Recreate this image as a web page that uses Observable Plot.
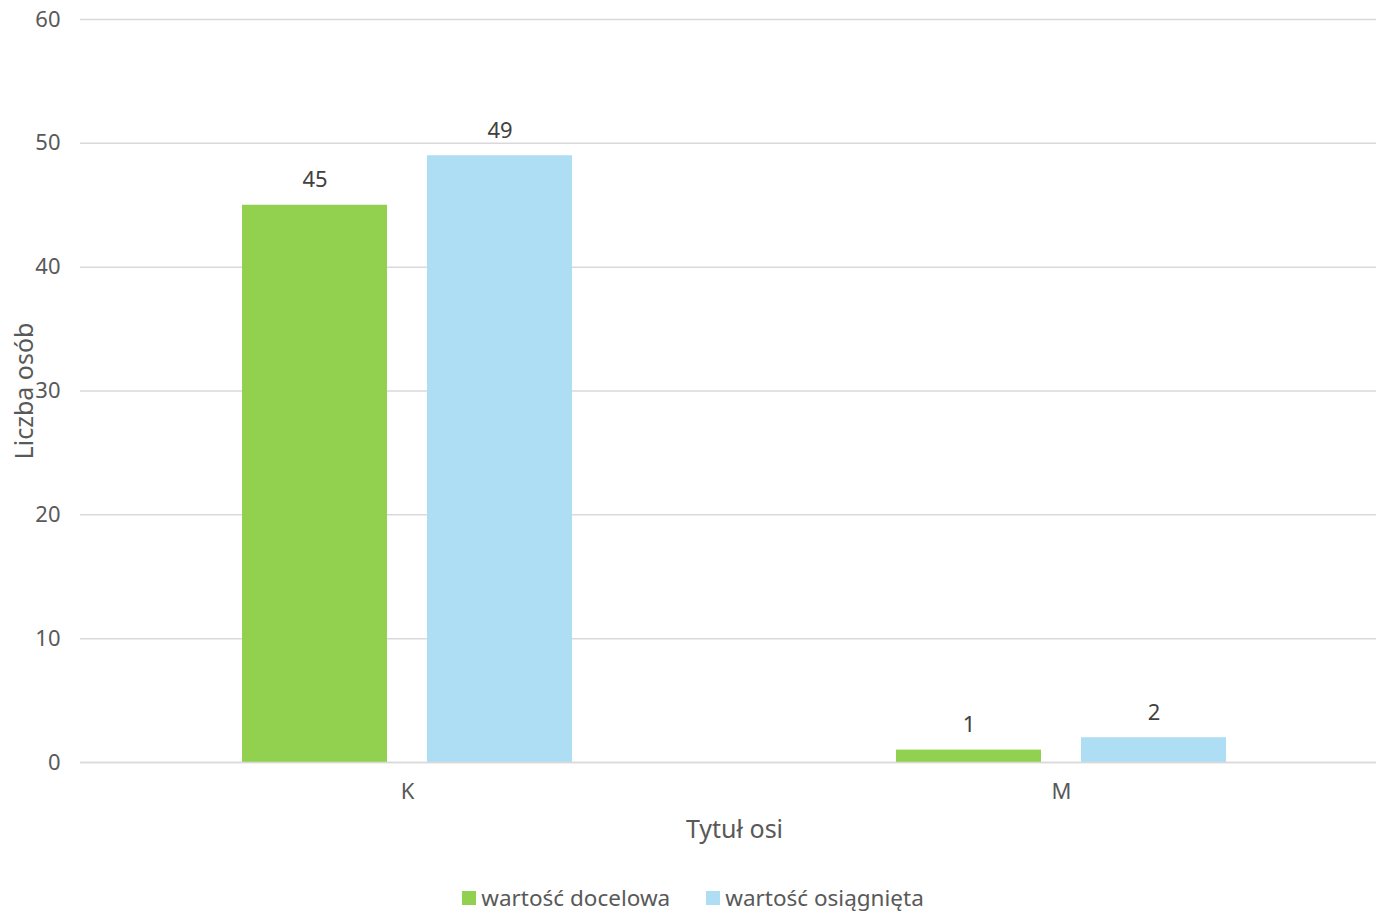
<!DOCTYPE html>
<html>
<head>
<meta charset="utf-8">
<script src="https://cdn.jsdelivr.net/npm/d3@7"></script>
<script src="https://cdn.jsdelivr.net/npm/@observablehq/plot@0.6"></script>
<style>
  html, body { margin: 0; padding: 0; background: #fff; overflow: hidden; }
  body { width: 1376px; height: 913px; font-family: "Noto Sans", sans-serif; }
  #legend { display: flex; justify-content: center; align-items: center; gap: 36px; margin-top: 32px; font-size: 22.5px; color: #595959; padding-left: 10px; }
  #legend .item { display: flex; align-items: center; gap: 5px; }
  #legend .sw { width: 14px; height: 14px; display: inline-block; }
  g[aria-label$="axis label"] text { font-size: 25px; }
</style>
</head>
<body>
<div id="chart"></div>
<div id="legend"></div>
<script>
const categories = ["K", "M"];
const series = ["wartość docelowa", "wartość osiągnięta"];
const docelowa = [45, 1];
const osiagnieta = [49, 2];
const colors = ["#92D050", "#AEDEF4"];
const yTicks = [0, 10, 20, 30, 40, 50, 60];

const data = [];
categories.forEach((c, i) => {
  data.push({cat: c, series: series[0], value: docelowa[i]});
  data.push({cat: c, series: series[1], value: osiagnieta[i]});
});

const chart = Plot.plot({
  width: 1376,
  height: 850,
  marginLeft: 80,
  marginRight: 0,
  marginTop: 19,
  marginBottom: 88,
  style: {fontFamily: "'Noto Sans', sans-serif", fontSize: "22px", color: "#595959", overflow: "visible"},
  fx: {domain: categories, range: [80, 1388], padding: 0, label: "Tytuł osi", labelAnchor: "center", labelOffset: 75, tickSize: 0, tickPadding: 21},
  x: {domain: series, paddingInner: 0.215, paddingOuter: 0.866, axis: null},
  y: {domain: [0, 60], ticks: yTicks, tickSize: 0, tickPadding: 20, label: "Liczba osób", labelAnchor: "center", labelOffset: 65, labelArrow: "none"},
  color: {domain: series, range: colors},
  marks: [
    Plot.gridY(yTicks, {stroke: "#d9d9d9", strokeOpacity: 1, strokeWidth: 1.5}),
    Plot.barY(data, {fx: "cat", x: "series", y: "value", fill: "series"}),
    Plot.text(data, {fx: "cat", x: "series", y: "value", text: d => String(d.value), dy: -25, fill: "#404040", fontSize: 22}),
    Plot.ruleY([0], {stroke: "#d9d9d9", strokeWidth: 1.5})
  ]
});
document.getElementById("chart").appendChild(chart);

const legend = document.getElementById("legend");
series.forEach((s, i) => {
  const item = document.createElement("div");
  item.className = "item";
  const sw = document.createElement("span");
  sw.className = "sw";
  sw.style.background = colors[i];
  const t = document.createElement("span");
  t.textContent = s;
  item.appendChild(sw);
  item.appendChild(t);
  legend.appendChild(item);
});
</script>
</body>
</html>
